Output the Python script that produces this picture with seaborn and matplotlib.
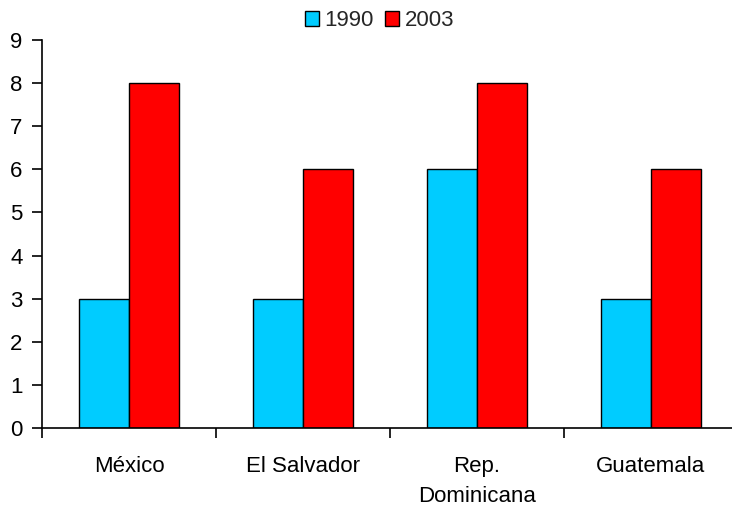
import numpy as np
import pandas as pd
import matplotlib
matplotlib.use("Agg")
import matplotlib.pyplot as plt
import seaborn as sns

countries = ["México", "El Salvador", "Rep.\nDominicana", "Guatemala"]
years = ["1990", "2003"]
values_1990 = [3, 3, 6, 3]
values_2003 = [8, 6, 8, 6]
colors = ["#00CCFF", "#FF0000"]

df = pd.DataFrame({
    "country": countries * 2,
    "year": [years[0]] * 4 + [years[1]] * 4,
    "value": values_1990 + values_2003,
})

sns.set_theme(style="white")
plt.rcParams["font.family"] = ["Liberation Sans", "DejaVu Sans"]

fig = plt.figure(figsize=(7.32, 5.07), dpi=100)
ax = fig.add_axes([42 / 732, 1 - 428 / 507, 696 / 732, 388 / 507])

sns.barplot(data=df, x="country", y="value", hue="year", palette=colors,
            width=0.57, edgecolor="black", linewidth=1, saturation=1, ax=ax)

ax.set_xlim(-0.5, 3.5)
ax.set_ylim(0, 9)
ax.set_yticks(range(10))
ax.set_xlabel("")
ax.set_ylabel("")
for s in ["top", "right"]:
    ax.spines[s].set_visible(False)
for s in ["left", "bottom"]:
    ax.spines[s].set_color("black")
    ax.spines[s].set_linewidth(1.2)

ax.tick_params(axis="y", direction="out", length=7, width=1.2, color="black",
               left=True, labelsize=16, labelcolor="black", pad=7)
ax.set_xticks(np.arange(-0.5, 4, 1), minor=True)
ax.tick_params(axis="x", which="minor", direction="out", length=7, width=1.2,
               color="black", bottom=True)
ax.tick_params(axis="x", which="major", length=0, labelsize=16,
               labelcolor="black", pad=20)
for lbl in ax.get_xticklabels():
    lbl.set_linespacing(1.55)
    lbl.set_verticalalignment("top")

handles, labels = ax.get_legend_handles_labels()
ax.legend(handles, labels, loc="upper center", bbox_to_anchor=(0.485, 1.1),
          ncol=2, frameon=False, fontsize=16, handlelength=0.65,
          handleheight=0.65, handletextpad=0.25, columnspacing=0.5,
          borderaxespad=0)

fig.savefig("out.png", dpi=100)
